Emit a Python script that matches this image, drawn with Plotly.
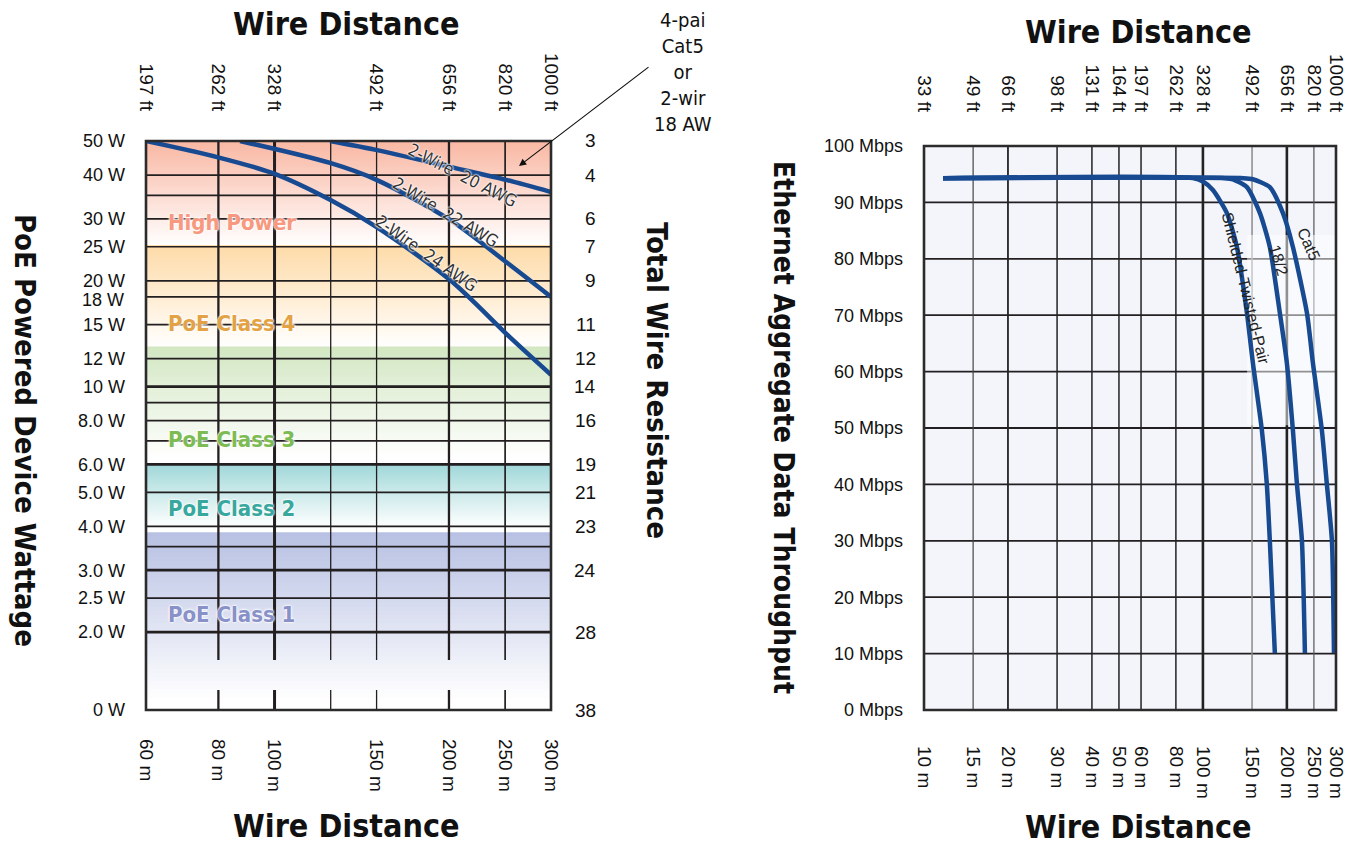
import numpy as np
import plotly.graph_objects as go

W, H = 1358, 846

# ---------------- Left chart data (PoE wattage vs distance) ----------------
left_m_ticks = [60, 80, 100, 150, 200, 250, 300]
left_m_labels = ["60 m", "80 m", "100 m", "150 m", "200 m", "250 m", "300 m"]
left_ft_labels = ["197 ft", "262 ft", "328 ft", "492 ft", "656 ft", "820 ft", "1000 ft"]

zero_watt_pos = 1.2  # where the "0 W" baseline sits on the log scale
watt_ticks = [50, 40, 30, 25, 20, 15, 12, 10, 8, 6, 5, 4, 3, 2.5, 2, zero_watt_pos]
watt_labels = ["50 W", "40 W", "30 W", "25 W", "20 W", "15 W", "12 W", "10 W",
               "8.0 W", "6.0 W", "5.0 W", "4.0 W", "3.0 W", "2.5 W", "2.0 W", "0 W"]
tight_watt_tick = 18          # labelled separately, nudged so it clears "20 W"
tight_watt_label = "18 W"

resistance_pos = [50, 40, 30, 25, 20, 15, 12, 10, 8, 6, 5, 4, 3, 2, zero_watt_pos]
resistance_labels = ["3", "4", "6", "7", "9", "11", "12", "14", "16", "19", "21", "23", "24", "28", "38"]

watt_grid = [40, 35, 30, 25, 20, 18, 15, 12, 9, 8, 7, 5, 4, 3.5, 2.5]
watt_grid_bold = [10, 6, 3, 2]
left_dist_grid = [80, 100, 125, 150, 200, 250]
left_dist_grid_width = [2.3, 3.0, 1.3, 1.3, 2.3, 1.7]
grid_gap_w = [1.368, 1.665]   # vertical grid lines are interrupted here

wire20_m = [124.7, 150.3, 200.9, 252, 300]
wire20_w = [50, 47.1, 42.2, 38.7, 35.8]
wire22_m = [87.2, 124.7, 150.3, 200.9, 252, 300]
wire22_w = [50, 43.3, 38.7, 29.8, 22.5, 18.0]
wire24_m = [60, 79.6, 99.3, 124.7, 150.3, 200.9, 255, 300]
wire24_w = [50, 45.0, 40.5, 34.0, 28.4, 20.1, 13.8, 10.8]

wire_label_text = ["2-Wire\u00a0 20 AWG", "2-Wire\u00a0 22 AWG", "2-Wire\u00a0 24 AWG"]
wire_label_m = [210.7, 197.0, 182.6]
wire_label_w = [40.0, 31.4, 24.0]
wire_label_angle = [27, 31, 35]

band_names = ["High Power", "PoE Class 4", "PoE Class 3", "PoE Class 2", "PoE Class 1"]
band_top_w = [50, 25.3, 13.0, 6.0, 3.85]
band_bottom_w = [25.3, 13.0, 6.3, 4.0, 1.3]
band_colors = ["#f9b8a4", "#fedba9", "#d3e7c3", "#a2d8d9", "#b8c1e3"]
band_label_colors = ["#f7987f", "#e3a243", "#7cbc53", "#38a89e", "#8891c8"]
band_label_w = [29.4, 15.1, 7.05, 4.51, 2.25]

# ---------------- Right chart data (throughput vs distance) ----------------
right_m_ticks = [10, 15, 20, 30, 40, 50, 60, 80, 100, 150, 200, 250, 300]
right_m_labels = ["10 m", "15 m", "20 m", "30 m", "40 m", "50 m", "60 m", "80 m",
                  "100 m", "150 m", "200 m", "250 m", "300 m"]
right_ft_labels = ["33 ft", "49 ft", "66 ft", "98 ft", "131 ft", "164 ft", "197 ft",
                   "262 ft", "328 ft", "492 ft", "656 ft", "820 ft", "1000 ft"]
mbps_ticks = [0, 10, 20, 30, 40, 50, 60, 70, 80, 90, 100]
mbps_labels = ["0 Mbps", "10 Mbps", "20 Mbps", "30 Mbps", "40 Mbps", "50 Mbps",
               "60 Mbps", "70 Mbps", "80 Mbps", "90 Mbps", "100 Mbps"]

right_dist_grid = [15, 20, 30, 40, 50, 60, 80, 100, 150, 200, 250]
right_dist_grid_width = [1.2, 1.8, 1.5, 1.5, 1.5, 1.5, 1.5, 2.6, 1.5, 2.6, 1.2]
right_dist_grid_color = ["#444", "#222", "#222", "#222", "#222", "#222", "#222",
                         "#222", "#8a8a8a", "#222", "#555"]
mbps_grid = [10, 20, 30, 40, 50, 60, 70, 80, 90]

stp_m = [11.7, 92, 100, 108.6, 121.9, 132.4, 143.8, 151.1, 162.7, 169.4, 173.7, 181.1]
stp_mbps = [94.3, 94.3, 93.7, 92.2, 88.1, 82.1, 70.4, 61.5, 49.6, 40.2, 30.1, 10.1]
w182_m = [11.7, 120, 128.1, 143.8, 160.1, 173.7, 188.7, 200, 210.2, 217.2, 226.4, 232.1]
w182_mbps = [94.3, 94.3, 94.1, 92.7, 88.1, 82.1, 70.4, 61.5, 49.6, 40.2, 30.1, 10.1]
cat5_m = [11.7, 140, 151, 173.7, 193.6, 210.2, 236, 248, 267, 278, 290, 295]
cat5_mbps = [94.3, 94.3, 94.1, 92.7, 88.1, 82.1, 70.4, 61.5, 49.6, 40.2, 30.1, 10.1]

cable_label_text = ["Shielded-Twisted-Pair", "18/2", "Cat5"]
cable_label_m = [142.7, 185.9, 240.2]
cable_label_mbps = [74.8, 79.8, 82.6]
cable_label_angle = [76, 73, 66]

# ---------------- helpers ----------------
def px_x(x):
    return x / W

def px_y(y):
    return 1 - y / H

def hex_rgb(h):
    h = h.lstrip("#")
    return [int(h[i:i + 2], 16) for i in (0, 2, 4)]

def mix(c1, c2, t):
    a, b = hex_rgb(c1), hex_rgb(c2)
    return "rgb(%d,%d,%d)" % tuple(round(a[i] + (b[i] - a[i]) * t) for i in range(3))

NARROW = "Liberation Sans Narrow, DejaVu Sans Condensed, Arial Narrow, sans-serif"
SANS = "Liberation Sans, Arial, Helvetica, sans-serif"
TITLE_H = dict(family=NARROW, size=32, color="#111", weight="bold")
TICK_FONT = dict(family=SANS, size=19, color="#111")
LTICK_FONT = dict(family=SANS, size=18, color="#111")
GRID = "#231f20"
CURVE = "#174a91"

L_DOM_X = [146 / W, 551 / W]
L_DOM_Y = [1 - 710 / H, 1 - 141 / H]
R_DOM_X = [924 / W, 1336 / W]
R_DOM_Y = [1 - 710 / H, 1 - 146 / H]

fig = go.Figure()
shapes = []
annotations = []

# ---- gradient bands (left) ----
N = 40
for top, bot, col in zip(band_top_w, band_bottom_w, band_colors):
    levels = np.logspace(np.log10(top), np.log10(bot), N + 1)
    for i in range(N):
        shapes.append(dict(type="rect", xref="x domain", yref="y", x0=0, x1=1,
                           y0=levels[i], y1=bot, layer="below", line=dict(width=0),
                           fillcolor=mix(col, "#ffffff", i / N)))

# ---- right background ----
shapes.append(dict(type="rect", xref="x3 domain", yref="y3 domain", x0=0, x1=1, y0=0, y1=1,
                   layer="below", line=dict(width=0), fillcolor="#f3f5fb"))

# ---- left grid lines ----
def hlines(vals, xs):
    x, y = [], []
    for v in vals:
        x += [xs[0], xs[1], None]
        y += [v, v, None]
    return x, y

gx, gy = hlines(watt_grid, (60, 300))
fig.add_trace(go.Scatter(x=gx, y=gy, mode="lines", line=dict(color=GRID, width=1.7),
                         xaxis="x", yaxis="y", hoverinfo="skip", showlegend=False))
gx, gy = hlines(watt_grid_bold, (60, 300))
fig.add_trace(go.Scatter(x=gx, y=gy, mode="lines", line=dict(color=GRID, width=2.7),
                         xaxis="x", yaxis="y", hoverinfo="skip", showlegend=False))
for v, wd in zip(left_dist_grid, left_dist_grid_width):
    fig.add_trace(go.Scatter(x=[v, v, None, v, v],
                             y=[50, grid_gap_w[1], None, grid_gap_w[0], zero_watt_pos],
                             mode="lines", line=dict(color=GRID, width=wd),
                             xaxis="x", yaxis="y", hoverinfo="skip", showlegend=False))

# ---- left curves ----
for xs, ys in [(wire20_m, wire20_w), (wire22_m, wire22_w), (wire24_m, wire24_w)]:
    fig.add_trace(go.Scatter(x=xs, y=ys, mode="lines",
                             line=dict(color=CURVE, width=4.5, shape="spline", smoothing=0.8),
                             xaxis="x", yaxis="y", hoverinfo="skip", showlegend=False))

# dummy traces so the top axes render
fig.add_trace(go.Scatter(x=[60], y=[50], mode="markers", marker=dict(opacity=0), xaxis="x2", yaxis="y",
                         hoverinfo="skip", showlegend=False))
fig.add_trace(go.Scatter(x=[10], y=[0], mode="markers", marker=dict(opacity=0), xaxis="x4", yaxis="y3",
                         hoverinfo="skip", showlegend=False))

# ---- right grid ----
gx, gy = hlines(mbps_grid, (10, 300))
fig.add_trace(go.Scatter(x=gx, y=gy, mode="lines", line=dict(color=GRID, width=1.8),
                         xaxis="x3", yaxis="y3", hoverinfo="skip", showlegend=False))
for v, wd, c in zip(right_dist_grid, right_dist_grid_width, right_dist_grid_color):
    fig.add_trace(go.Scatter(x=[v, v], y=[0, 100], mode="lines", line=dict(color=c, width=wd),
                             xaxis="x3", yaxis="y3", hoverinfo="skip", showlegend=False))
# washed-out label box
fig.add_trace(go.Scatter(x=[144, 300, 300, 144, 144], y=[50.5, 50.5, 84.2, 84.2, 50.5],
                         mode="lines", fill="toself", fillcolor="rgba(255,255,255,0.5)",
                         line=dict(width=0), xaxis="x3", yaxis="y3", hoverinfo="skip", showlegend=False))
for xs, ys in [(stp_m, stp_mbps), (w182_m, w182_mbps), (cat5_m, cat5_mbps)]:
    fig.add_trace(go.Scatter(x=xs, y=ys, mode="lines",
                             line=dict(color=CURVE, width=4.5, shape="spline", smoothing=0.6),
                             xaxis="x3", yaxis="y3", hoverinfo="skip", showlegend=False))

# ---- frames ----
for xr, yr in [("x domain", "y domain"), ("x3 domain", "y3 domain")]:
    shapes.append(dict(type="rect", xref=xr, yref=yr, x0=0, x1=1, y0=0, y1=1,
                       line=dict(color="#2b2b2b", width=2.6), fillcolor="rgba(0,0,0,0)", layer="above"))

# ---- band labels ----
for name, w_, c in zip(band_names, band_label_w, band_label_colors):
    annotations.append(dict(text=name, xref="paper", yref="y", x=px_x(166), y=np.log10(w_),
                            xanchor="left", yanchor="middle", showarrow=False,
                            font=dict(family=NARROW, size=22, color=c, weight="bold",
                                      shadow="0 0 2px #fff, 0 0 2px #fff, 0 0 3px #fff")))

# ---- wire labels ----
for t, m, w_, a in zip(wire_label_text, wire_label_m, wire_label_w, wire_label_angle):
    annotations.append(dict(text=t, xref="x", yref="y", x=np.log10(m), y=np.log10(w_),
                            textangle=a, showarrow=False,
                            font=dict(family=NARROW, size=17, color="#333",
                                      shadow="0 0 2px #fff, 0 0 2px #fff, 0 0 2px #fff")))

# ---- cable labels ----
for t, m, v, a in zip(cable_label_text, cable_label_m, cable_label_mbps, cable_label_angle):
    annotations.append(dict(text=t, xref="x3", yref="y3", x=np.log10(m), y=v,
                            textangle=a, showarrow=False,
                            font=dict(family=SANS, size=16, color="#222")))

# ---- the crowded "18 W" tick label, nudged down a little ----
annotations.append(dict(text=tight_watt_label, xref="paper", yref="y", x=px_x(126),
                        y=np.log10(tight_watt_tick), yshift=-3, xanchor="right", yanchor="middle",
                        showarrow=False, font=LTICK_FONT))

# ---- resistance labels (right of left chart) ----
for p, lab in zip(resistance_pos, resistance_labels):
    annotations.append(dict(text=lab, xref="paper", yref="y", x=px_x(598), y=np.log10(p),
                            xanchor="right", yanchor="middle", showarrow=False, font=TICK_FONT))

# ---- titles ----
for txt, x, y, ang, sz in [("Wire Distance", 346, 24, 0, 32), ("Wire Distance", 346, 826, 0, 32),
                           ("Wire Distance", 1138, 32, 0, 32), ("Wire Distance", 1138, 827, 0, 32),
                           ("PoE Powered Device Wattage", 25, 430, 90, 29),
                           ("Total Wire Resistance", 657, 380, 90, 29),
                           ("Ethernet Aggregate Data Throughput", 783, 428, 90, 28)]:
    annotations.append(dict(text=txt, xref="paper", yref="paper", x=px_x(x), y=px_y(y),
                            xanchor="center", yanchor="middle", textangle=ang,
                            showarrow=False, font={**TITLE_H, "size": sz}))

# ---- callout ----
annotations.append(dict(text="4-pai<br>Cat5<br>or<br>2-wir<br>18 AW", xref="paper", yref="paper",
                        x=px_x(683), y=px_y(72), xanchor="center", yanchor="middle", align="center",
                        showarrow=False, font=dict(family=NARROW, size=20, color="#111")))
annotations.append(dict(text="", xref="paper", yref="paper", x=px_x(519), y=px_y(166),
                        ax=131, ay=-100, showarrow=True, arrowhead=2, arrowsize=1.2,
                        arrowwidth=1.2, arrowcolor="#111"))

axis_common = dict(showgrid=False, zeroline=False, showline=False, ticks="",
                   tickfont=TICK_FONT, automargin=False)

fig.update_layout(
    width=W, height=H, margin=dict(l=0, r=0, t=0, b=0, autoexpand=False),
    paper_bgcolor="white", plot_bgcolor="rgba(0,0,0,0)",
    hovermode=False, showlegend=False,
    shapes=shapes, annotations=annotations,
    xaxis=dict(type="log", range=[np.log10(60), np.log10(300)], domain=L_DOM_X, anchor="y",
               tickvals=left_m_ticks, ticktext=left_m_labels, tickangle=90,
               ticklabelstandoff=28, **axis_common),
    xaxis2=dict(type="log", range=[np.log10(60), np.log10(300)], domain=L_DOM_X, anchor="y",
                overlaying="x", side="top", tickvals=left_m_ticks, ticktext=left_ft_labels,
                tickangle=90, ticklabelstandoff=26, **axis_common),
    yaxis=dict(type="log", range=[np.log10(zero_watt_pos), np.log10(50)], domain=L_DOM_Y, anchor="x",
               tickvals=watt_ticks, ticktext=watt_labels, ticklabelstandoff=20,
               **{**axis_common, "tickfont": LTICK_FONT}),
    xaxis3=dict(type="log", range=[1, np.log10(300)], domain=R_DOM_X, anchor="y3",
                tickvals=right_m_ticks, ticktext=right_m_labels, tickangle=90,
                ticklabelstandoff=35, **axis_common),
    xaxis4=dict(type="log", range=[1, np.log10(300)], domain=R_DOM_X, anchor="y3",
                overlaying="x3", side="top", tickvals=right_m_ticks, ticktext=right_ft_labels,
                tickangle=90, ticklabelstandoff=30, **axis_common),
    yaxis3=dict(range=[0, 100], domain=R_DOM_Y, anchor="x3",
                tickvals=mbps_ticks, ticktext=mbps_labels, ticklabelstandoff=20,
                **{**axis_common, "tickfont": dict(family=SANS, size=18, color="#111")}),
)

fig.write_html("out.html", config={"displayModeBar": False},
               post_script="document.body.style.margin='0';document.body.style.overflow='hidden';")
